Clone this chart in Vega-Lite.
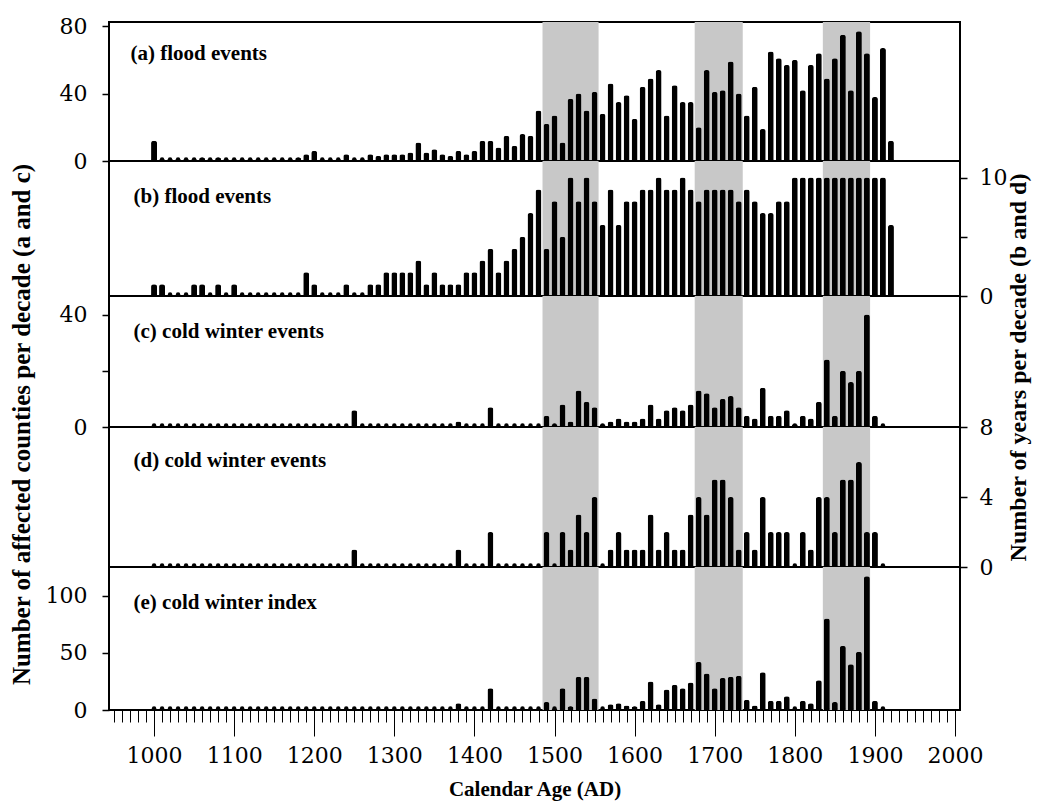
{
  "$schema": "https://vega.github.io/schema/vega-lite/v6.json",
  "padding": {"left": 7, "top": 14, "right": 5, "bottom": 5},
  "background": "white",
  "bounds": "flush",
  "spacing": 0,
  "datasets": {
    "series": [
      {"year":1000,"a":12,"b":1,"c":0,"d":0,"e":0},
      {"year":1010,"a":1,"b":1,"c":0,"d":0,"e":0},
      {"year":1020,"a":1,"b":0,"c":0,"d":0,"e":0},
      {"year":1030,"a":1,"b":0,"c":0,"d":0,"e":0},
      {"year":1040,"a":1,"b":0,"c":0,"d":0,"e":0},
      {"year":1050,"a":1,"b":1,"c":0,"d":0,"e":0},
      {"year":1060,"a":2,"b":1,"c":0,"d":0,"e":0},
      {"year":1070,"a":1,"b":0,"c":0,"d":0,"e":0},
      {"year":1080,"a":2,"b":1,"c":0,"d":0,"e":0},
      {"year":1090,"a":1,"b":0,"c":0,"d":0,"e":0},
      {"year":1100,"a":1,"b":1,"c":0,"d":0,"e":0},
      {"year":1110,"a":1,"b":0,"c":0,"d":0,"e":0},
      {"year":1120,"a":1,"b":0,"c":0,"d":0,"e":0},
      {"year":1130,"a":1,"b":0,"c":0,"d":0,"e":0},
      {"year":1140,"a":1,"b":0,"c":0,"d":0,"e":0},
      {"year":1150,"a":1,"b":0,"c":0,"d":0,"e":0},
      {"year":1160,"a":1,"b":0,"c":0,"d":0,"e":0},
      {"year":1170,"a":1,"b":0,"c":0,"d":0,"e":0},
      {"year":1180,"a":2,"b":0,"c":0,"d":0,"e":0},
      {"year":1190,"a":4,"b":2,"c":0,"d":0,"e":0},
      {"year":1200,"a":6,"b":1,"c":0,"d":0,"e":0},
      {"year":1210,"a":1,"b":0,"c":0,"d":0,"e":0},
      {"year":1220,"a":1,"b":0,"c":0,"d":0,"e":0},
      {"year":1230,"a":1,"b":0,"c":0,"d":0,"e":0},
      {"year":1240,"a":4,"b":1,"c":0,"d":0,"e":0},
      {"year":1250,"a":1,"b":0,"c":6,"d":1,"e":0},
      {"year":1260,"a":1,"b":0,"c":0,"d":0,"e":0},
      {"year":1270,"a":4,"b":1,"c":0,"d":0,"e":0},
      {"year":1280,"a":3,"b":1,"c":0,"d":0,"e":0},
      {"year":1290,"a":4,"b":2,"c":0,"d":0,"e":0},
      {"year":1300,"a":4,"b":2,"c":0,"d":0,"e":0},
      {"year":1310,"a":4,"b":2,"c":0,"d":0,"e":0},
      {"year":1320,"a":5,"b":2,"c":0,"d":0,"e":0},
      {"year":1330,"a":11,"b":3,"c":0,"d":0,"e":0},
      {"year":1340,"a":5,"b":1,"c":0,"d":0,"e":0},
      {"year":1350,"a":7,"b":2,"c":0,"d":0,"e":0},
      {"year":1360,"a":4,"b":1,"c":0,"d":0,"e":0},
      {"year":1370,"a":3,"b":1,"c":0,"d":0,"e":0},
      {"year":1380,"a":6,"b":1,"c":2,"d":1,"e":6},
      {"year":1390,"a":4,"b":2,"c":0,"d":0,"e":0},
      {"year":1400,"a":6,"b":2,"c":0,"d":0,"e":0},
      {"year":1410,"a":12,"b":3,"c":0,"d":0,"e":0},
      {"year":1420,"a":12,"b":4,"c":7,"d":2,"e":19},
      {"year":1430,"a":8,"b":2,"c":0,"d":0,"e":0},
      {"year":1440,"a":15,"b":3,"c":0,"d":0,"e":0},
      {"year":1450,"a":9,"b":4,"c":0,"d":0,"e":0},
      {"year":1460,"a":16,"b":5,"c":0,"d":0,"e":0},
      {"year":1470,"a":15,"b":7,"c":0,"d":0,"e":0},
      {"year":1480,"a":30,"b":9,"c":0,"d":0,"e":0},
      {"year":1490,"a":22,"b":4,"c":4,"d":2,"e":7},
      {"year":1500,"a":27,"b":8,"c":1,"d":0,"e":1},
      {"year":1510,"a":11,"b":5,"c":8,"d":2,"e":19},
      {"year":1520,"a":37,"b":10,"c":2,"d":1,"e":3},
      {"year":1530,"a":40,"b":8,"c":13,"d":3,"e":29},
      {"year":1540,"a":30,"b":10,"c":9,"d":2,"e":29},
      {"year":1550,"a":41,"b":8,"c":7,"d":4,"e":10},
      {"year":1560,"a":28,"b":6,"c":1,"d":0,"e":0},
      {"year":1570,"a":46,"b":9,"c":2,"d":1,"e":5},
      {"year":1580,"a":35,"b":6,"c":3,"d":2,"e":6},
      {"year":1590,"a":39,"b":8,"c":2,"d":1,"e":4},
      {"year":1600,"a":25,"b":8,"c":2,"d":1,"e":3},
      {"year":1610,"a":44,"b":9,"c":3,"d":1,"e":8},
      {"year":1620,"a":49,"b":9,"c":8,"d":3,"e":25},
      {"year":1630,"a":54,"b":10,"c":3,"d":1,"e":5},
      {"year":1640,"a":27,"b":9,"c":6,"d":2,"e":18},
      {"year":1650,"a":45,"b":9,"c":7,"d":1,"e":22},
      {"year":1660,"a":35,"b":10,"c":6,"d":1,"e":19},
      {"year":1670,"a":35,"b":9,"c":8,"d":3,"e":24},
      {"year":1680,"a":20,"b":8,"c":13,"d":4,"e":42},
      {"year":1690,"a":54,"b":9,"c":12,"d":3,"e":32},
      {"year":1700,"a":41,"b":9,"c":7,"d":5,"e":19},
      {"year":1710,"a":42,"b":9,"c":10,"d":5,"e":28},
      {"year":1720,"a":59,"b":9,"c":11,"d":4,"e":29},
      {"year":1730,"a":40,"b":8,"c":7,"d":1,"e":30},
      {"year":1740,"a":27,"b":9,"c":4,"d":2,"e":9},
      {"year":1750,"a":44,"b":8,"c":3,"d":1,"e":4},
      {"year":1760,"a":19,"b":7,"c":14,"d":4,"e":33},
      {"year":1770,"a":65,"b":7,"c":4,"d":2,"e":8},
      {"year":1780,"a":61,"b":8,"c":4,"d":2,"e":8},
      {"year":1790,"a":57,"b":8,"c":6,"d":2,"e":12},
      {"year":1800,"a":60,"b":10,"c":1,"d":0,"e":0},
      {"year":1810,"a":42,"b":10,"c":4,"d":2,"e":8},
      {"year":1820,"a":57,"b":10,"c":3,"d":1,"e":6},
      {"year":1830,"a":64,"b":10,"c":9,"d":4,"e":26},
      {"year":1840,"a":49,"b":10,"c":24,"d":4,"e":80},
      {"year":1850,"a":61,"b":10,"c":4,"d":2,"e":7},
      {"year":1860,"a":75,"b":10,"c":20,"d":5,"e":56},
      {"year":1870,"a":42,"b":10,"c":16,"d":5,"e":40},
      {"year":1880,"a":77,"b":10,"c":20,"d":6,"e":51},
      {"year":1890,"a":64,"b":10,"c":40,"d":2,"e":117},
      {"year":1900,"a":38,"b":10,"c":4,"d":2,"e":8},
      {"year":1910,"a":67,"b":10,"c":0,"d":0,"e":0},
      {"year":1920,"a":12,"b":6,"c":null,"d":null,"e":null}
    ],
    "bands": [
      {"year":1485,"year_end":1555},
      {"year":1675,"year_end":1735},
      {"year":1835,"year_end":1894}
    ]
  },
  "config": {
    "view": {"stroke": "black", "strokeWidth": 2},
    "axis": {"domain": false, "grid": false, "tickColor": "black", "tickWidth": 1.5, "tickSize": 7, "labelColor": "black", "labelFont": "DejaVu Serif", "labelFontSize": 22, "labelPadding": 15, "titleColor": "black", "titleFont": "Liberation Serif", "titleFontWeight": "bold"}
  },
  "vconcat": [
    {
      "width": 851, "height": 139,
      "encoding": {"x": {"field": "year", "type": "quantitative", "scale": {"domain": [950, 2000], "nice": false, "zero": false},
        "axis": {"orient": "top", "ticks": false, "labels": false, "domain": false, "title": "(a) flood events", "titleFontSize": 21, "titleX": 21, "titleY": 37, "titleAlign": "left", "titleBaseline": "alphabetic", "titleAngle": 0}}},
      "layer": [
        {"data": {"name": "bands"}, "mark": {"type": "rect", "color": "#c8c8c8"}, "encoding": {"x2": {"field": "year_end"}, "y": {"value": 0}, "y2": {"value": "height"}}},
        {"data": {"name": "series"}, "mark": {"type": "bar", "orient": "vertical", "size": 6, "color": "black", "cornerRadiusTopLeft": 2.5, "cornerRadiusTopRight": 2.5},
         "encoding": {"y": {"field": "a", "type": "quantitative", "scale": {"domain": [0, 82.5], "nice": false}, "axis": {"values": [0, 20, 40, 60, 80], "labelExpr": "datum.value % 40 === 0 ? datum.label : ''", "title": null}}}},
        {"data": {"name": "series"}, "transform": [{"filter": "isValid(datum.a)"}], "mark": {"type": "circle", "size": 20, "color": "black", "opacity": 1, "yOffset": -1.5}, "encoding": {"y": {"datum": 0, "type": "quantitative"}}}
      ]
    },
    {
      "width": 851, "height": 135,
      "encoding": {"x": {"field": "year", "type": "quantitative", "scale": {"domain": [950, 2000], "nice": false, "zero": false},
        "axis": {"orient": "top", "ticks": false, "labels": false, "domain": false, "title": "(b) flood events", "titleFontSize": 21, "titleX": 24, "titleY": 41, "titleAlign": "left", "titleBaseline": "alphabetic", "titleAngle": 0}}},
      "layer": [
        {"data": {"name": "bands"}, "mark": {"type": "rect", "color": "#c8c8c8"}, "encoding": {"x2": {"field": "year_end"}, "y": {"value": 0}, "y2": {"value": "height"}}},
        {"data": {"name": "series"}, "mark": {"type": "bar", "orient": "vertical", "size": 6, "color": "black", "cornerRadiusTopLeft": 2.5, "cornerRadiusTopRight": 2.5},
         "encoding": {"y": {"field": "b", "type": "quantitative", "scale": {"domain": [0, 11.4], "nice": false}, "axis": {"orient": "right", "values": [0, 5, 10], "labelExpr": "datum.value % 10 === 0 ? datum.label : ''", "labelPadding": 12, "title": null}}}},
        {"data": {"name": "series"}, "transform": [{"filter": "isValid(datum.b)"}], "mark": {"type": "circle", "size": 20, "color": "black", "opacity": 1, "yOffset": -1.5}, "encoding": {"y": {"datum": 0, "type": "quantitative"}}}
      ]
    },
    {
      "width": 851, "height": 131,
      "encoding": {"x": {"field": "year", "type": "quantitative", "scale": {"domain": [950, 2000], "nice": false, "zero": false},
        "axis": {"orient": "top", "ticks": false, "labels": false, "domain": false, "title": "(c) cold winter events", "titleFontSize": 21, "titleX": 24, "titleY": 41.5, "titleAlign": "left", "titleBaseline": "alphabetic", "titleAngle": 0}}},
      "layer": [
        {"data": {"name": "bands"}, "mark": {"type": "rect", "color": "#c8c8c8"}, "encoding": {"x2": {"field": "year_end"}, "y": {"value": 0}, "y2": {"value": "height"}}},
        {"data": {"name": "series"}, "mark": {"type": "bar", "orient": "vertical", "size": 6, "color": "black", "cornerRadiusTopLeft": 2.5, "cornerRadiusTopRight": 2.5},
         "encoding": {"y": {"field": "c", "type": "quantitative", "scale": {"domain": [0, 46.6], "nice": false}, "axis": {"values": [0, 20, 40], "labelExpr": "datum.value % 40 === 0 ? datum.label : ''", "title": "Number of affected counties per decade (a and c)", "titleFontSize": 25, "titleX": -88, "titleY": 128, "titleAngle": 270, "titleBaseline": "middle", "titleAlign": "center"}}}},
        {"data": {"name": "series"}, "transform": [{"filter": "isValid(datum.c)"}], "mark": {"type": "circle", "size": 20, "color": "black", "opacity": 1, "yOffset": -1.5}, "encoding": {"y": {"datum": 0, "type": "quantitative"}}}
      ]
    },
    {
      "width": 851, "height": 140,
      "encoding": {"x": {"field": "year", "type": "quantitative", "scale": {"domain": [950, 2000], "nice": false, "zero": false},
        "axis": {"orient": "top", "ticks": false, "labels": false, "domain": false, "title": "(d) cold winter events", "titleFontSize": 21, "titleX": 24, "titleY": 39, "titleAlign": "left", "titleBaseline": "alphabetic", "titleAngle": 0}}},
      "layer": [
        {"data": {"name": "bands"}, "mark": {"type": "rect", "color": "#c8c8c8"}, "encoding": {"x2": {"field": "year_end"}, "y": {"value": 0}, "y2": {"value": "height"}}},
        {"data": {"name": "series"}, "mark": {"type": "bar", "orient": "vertical", "size": 6, "color": "black", "cornerRadiusTopLeft": 2.5, "cornerRadiusTopRight": 2.5},
         "encoding": {"y": {"field": "d", "type": "quantitative", "scale": {"domain": [0, 8], "nice": false}, "axis": {"orient": "right", "values": [0, 2, 4, 6, 8], "labelExpr": "datum.value % 4 === 0 ? datum.label : ''", "labelPadding": 12, "title": "Number of years per decade (b and d)", "titleFontSize": 24, "titleX": 58, "titleY": -60, "titleAngle": 270, "titleBaseline": "middle", "titleAlign": "center"}}}},
        {"data": {"name": "series"}, "transform": [{"filter": "isValid(datum.d)"}], "mark": {"type": "circle", "size": 20, "color": "black", "opacity": 1, "yOffset": -1.5}, "encoding": {"y": {"datum": 0, "type": "quantitative"}}}
      ]
    },
    {
      "width": 851, "height": 143,
      "encoding": {"x": {"field": "year", "type": "quantitative", "scale": {"domain": [950, 2000], "nice": false, "zero": false},
        "axis": {"values": [950,960,970,980,990,1000,1010,1020,1030,1040,1050,1060,1070,1080,1090,1100,1110,1120,1130,1140,1150,1160,1170,1180,1190,1200,1210,1220,1230,1240,1250,1260,1270,1280,1290,1300,1310,1320,1330,1340,1350,1360,1370,1380,1390,1400,1410,1420,1430,1440,1450,1460,1470,1480,1490,1500,1510,1520,1530,1540,1550,1560,1570,1580,1590,1600,1610,1620,1630,1640,1650,1660,1670,1680,1690,1700,1710,1720,1730,1740,1750,1760,1770,1780,1790,1800,1810,1820,1830,1840,1850,1860,1870,1880,1890,1900,1910,1920,1930,1940,1950,1960,1970,1980,1990,2000],
          "format": "d", "labelExpr": "datum.value % 100 === 0 ? datum.label : ''", "labelOverlap": false, "labelFlush": false,
          "tickSize": {"condition": {"test": "datum.value % 100 === 0", "value": 26}, "value": 12}, "tickWidth": 1,
          "labelPadding": 9, "title": "Calendar Age (AD)", "titleFontSize": 21, "titlePadding": 12}}},
      "layer": [
        {"data": {"name": "bands"}, "mark": {"type": "rect", "color": "#c8c8c8"}, "encoding": {"x2": {"field": "year_end"}, "y": {"value": 0}, "y2": {"value": "height"}}},
        {"data": {"name": "series"}, "mark": {"type": "bar", "orient": "vertical", "size": 6, "color": "black", "cornerRadiusTopLeft": 2.5, "cornerRadiusTopRight": 2.5},
         "encoding": {"y": {"field": "e", "type": "quantitative", "scale": {"domain": [0, 125], "nice": false}, "axis": {"values": [0, 25, 50, 75, 100], "labelExpr": "datum.value % 50 === 0 ? datum.label : ''", "title": "(e) cold winter index", "titleFontSize": 21, "titleX": 24, "titleY": 41.7, "titleAlign": "left", "titleBaseline": "alphabetic", "titleAngle": 0}}}},
        {"data": {"name": "series"}, "transform": [{"filter": "isValid(datum.e)"}], "mark": {"type": "circle", "size": 20, "color": "black", "opacity": 1, "yOffset": -1.5}, "encoding": {"y": {"datum": 0, "type": "quantitative"}}}
      ]
    }
  ]
}
